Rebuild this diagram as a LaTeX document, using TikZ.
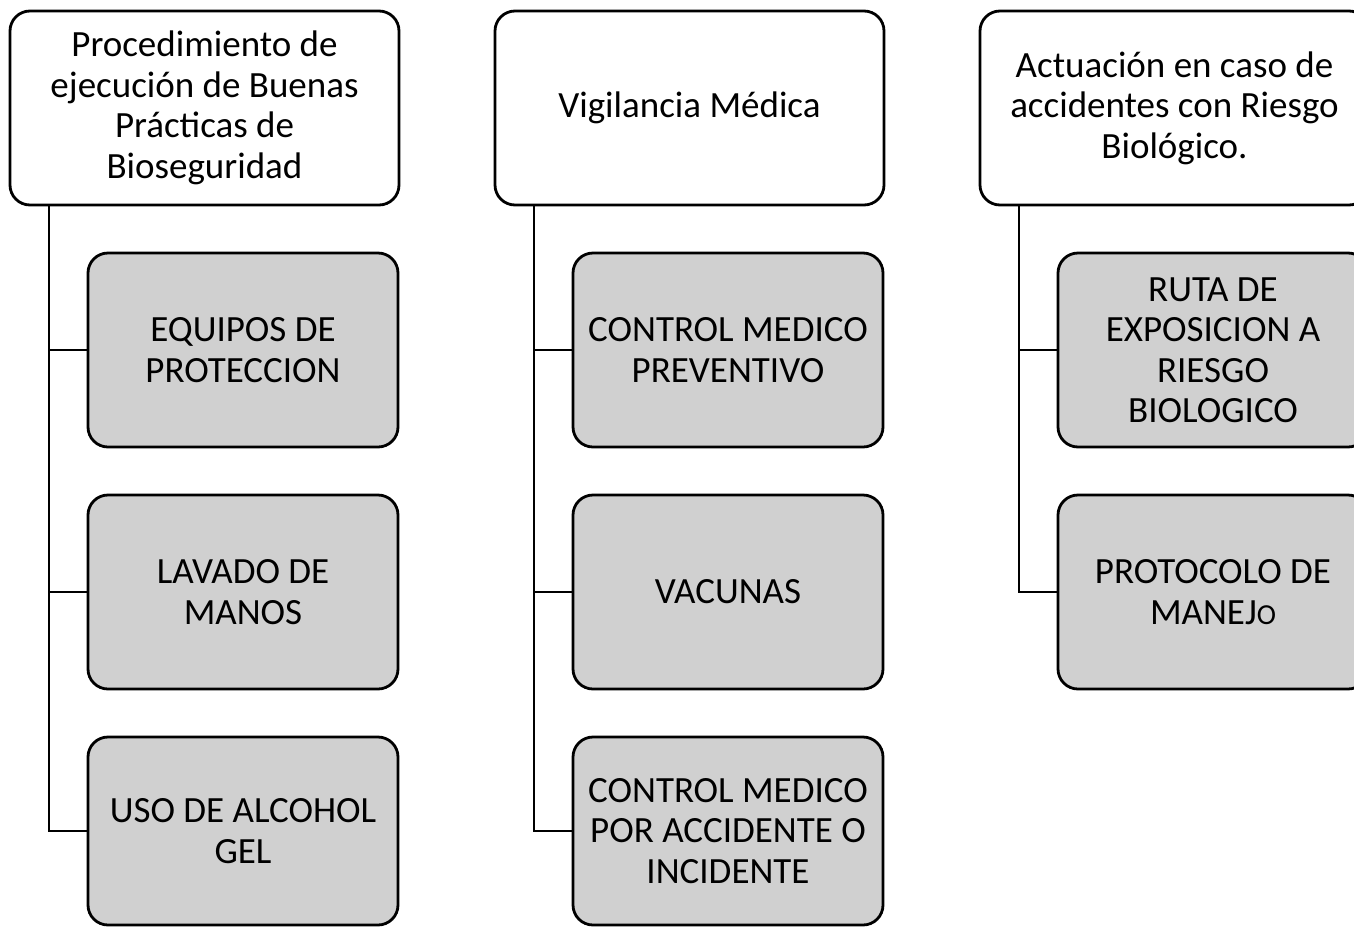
\documentclass[tikz,border=0pt]{standalone}
\usepackage{fontspec}
\setmainfont{Carlito}
\definecolor{boxgray}{RGB}{208,208,208}
\begin{document}
\begin{tikzpicture}[x=1pt,y=-1pt,
  every node/.style={font=\fontsize{37}{40.5}\selectfont, align=center, inner sep=0pt},
  head/.style={draw=black, line width=2.8pt, fill=white, rounded corners=20pt,
    minimum width=389pt, minimum height=194pt},
  child/.style={draw=black, line width=2.8pt, fill=boxgray, rounded corners=20pt,
    minimum width=310pt, minimum height=194pt},
  conn/.style={draw=black, line width=2.8pt}]
\useasboundingbox (0,0) rectangle (1354,927);
\clip (0,0) rectangle (1354,927);
% column 1
\node[head] (h1) at (204.5,108) {Procedimiento de\\ejecución de Buenas\\Prácticas de\\Bioseguridad};
\node[child] (a1) at (243,350) {EQUIPOS DE\\PROTECCION};
\node[child] (a2) at (243,592) {LAVADO DE\\MANOS};
\node[child, minimum height=188pt] (a3) at (243,831) {USO DE ALCOHOL\\GEL};
\coordinate (t1) at (49,205);
\draw[conn] (t1) |- (a1.west);
\draw[conn] (t1) |- (a2.west);
\draw[conn] (t1) |- (a3.west);
% column 2
\node[head] (h2) at (689.5,108) {Vigilancia Médica};
\node[child] (b1) at (728,350) {CONTROL MEDICO\\PREVENTIVO};
\node[child] (b2) at (728,592) {VACUNAS};
\node[child, minimum height=188pt] (b3) at (728,831) {CONTROL MEDICO\\POR ACCIDENTE O\\INCIDENTE};
\coordinate (t2) at (534,205);
\draw[conn] (t2) |- (b1.west);
\draw[conn] (t2) |- (b2.west);
\draw[conn] (t2) |- (b3.west);
% column 3
\node[head] (h3) at (1174.5,108) {Actuación en caso de\\accidentes con Riesgo\\Biológico.};
\node[child] (c1) at (1213,350) {RUTA DE\\EXPOSICION A\\RIESGO\\BIOLOGICO};
\node[child] (c2) at (1213,592) {PROTOCOLO DE\\MANEJ{\fontsize{29}{40.5}\selectfont O}};
\coordinate (t3) at (1019,205);
\draw[conn] (t3) |- (c1.west);
\draw[conn] (t3) |- (c2.west);
\end{tikzpicture}
\end{document}
